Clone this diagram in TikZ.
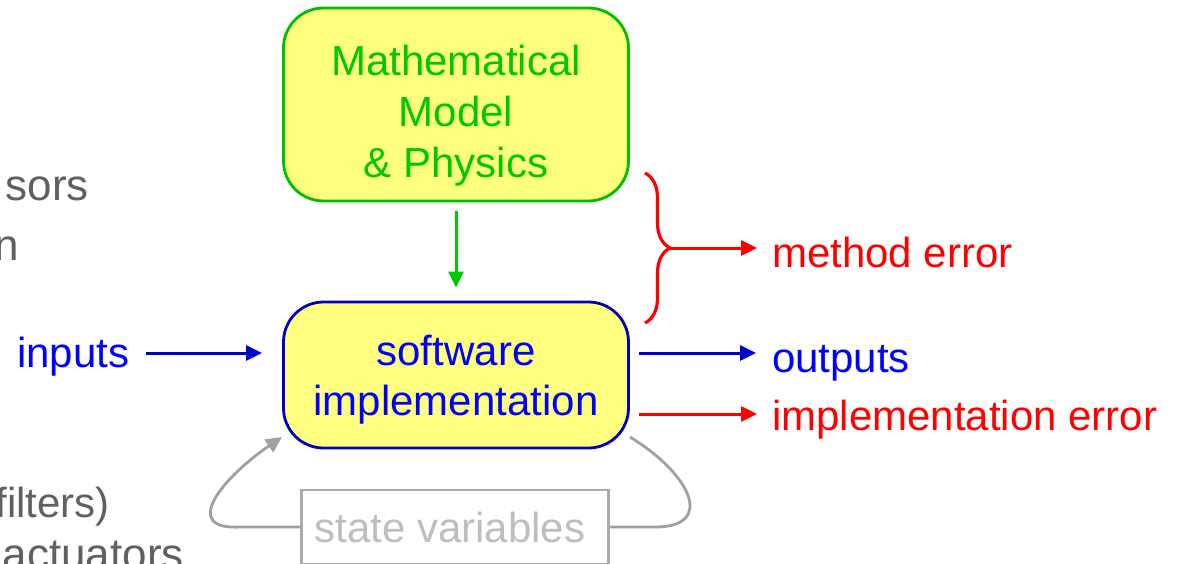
\documentclass[tikz,border=0pt]{standalone}
\usepackage{fontspec}
\setmainfont{Liberation Sans}
\usetikzlibrary{arrows.meta,decorations.pathreplacing}
\definecolor{boxfill}{RGB}{255,255,128}
\definecolor{mgreen}{RGB}{0,200,0}
\definecolor{mgreenline}{RGB}{0,190,0}
\definecolor{mblue}{RGB}{0,0,255}
\definecolor{mblueline}{RGB}{0,0,190}
\definecolor{marrowblue}{RGB}{0,0,204}
\definecolor{mred}{RGB}{255,0,0}
\definecolor{lefttext}{RGB}{96,96,96}
\definecolor{svtext}{RGB}{190,190,190}
\definecolor{svline}{RGB}{170,170,170}
\definecolor{loopgray}{RGB}{160,160,160}
\tikzset{
  big/.style={font=\fontsize{42}{50}\selectfont, inner sep=0pt},
  leftbig/.style={font=\fontsize{44}{50}\selectfont, inner sep=0pt, text=lefttext, anchor=base east},
  roundbox/.style={draw, line width=2.8pt, fill=boxfill, rounded corners=40pt,
    minimum width=345pt, inner sep=0pt},
  arr/.style={line width=3pt, -{Triangle[length=16pt,width=15pt]}},
  brace/.style={decorate, decoration={brace, amplitude=25pt}, line width=3.2pt, draw=mred},
  loopline/.style={draw=loopgray, line width=2.8pt},
}
\begin{document}
\begin{tikzpicture}[x=1pt,y=-1pt]
\useasboundingbox (0,0) rectangle (1178,563);
\clip (0,0) rectangle (1178,563);

% boxes
\node[roundbox, draw=mgreenline, minimum height=193pt] (model) at (456,104.5) {};
\node[roundbox, draw=mblueline, minimum height=146pt] (sw) at (456,375) {};
\node[draw=svline, line width=2.4pt, minimum width=307pt, minimum height=74pt, inner sep=0pt] (svar) at (455,527) {};

% texts in boxes
\node[big, text=mgreen, anchor=base] (m1) at (456,75) {Mathematical};
\node[big, text=mgreen, anchor=base] (m2) at (456,126) {Model};
\node[big, text=mgreen, anchor=base] (m3) at (456,177) {\& Physics};
\node[big, text=mblue, anchor=base] (s1) at (456,365) {software};
\node[big, text=mblue, anchor=base] (s2) at (456,415) {implementation};
\node[big, text=svtext, anchor=base] (sv) at (450,542) {state variables};

% left texts, cut at the picture's edge as in the reference
\node[leftbig] (l1) at (89,200) {sors};
\node[leftbig] (l2) at (19,260) {n};
\node[leftbig, font=\fontsize{42}{50}\selectfont] (l3) at (110,517) {filters)};
\node[leftbig] (l4) at (184,569) {actuators};

% right texts
\node[big, text=mblue, anchor=base west] (inputs) at (17,367) {inputs};
\node[big, text=mred, anchor=base west] (merr) at (772,267) {method error};
\node[big, text=mblue, anchor=base west] (outputs) at (772,372) {outputs};
\node[big, text=mred, anchor=base west] (ierr) at (772,430) {implementation error};

% coordinates
\coordinate (inA) at (146,353);
\coordinate (outT) at (756,353);
\coordinate (ierrT) at (757,414);
\coordinate (brTop) at (645,173);
\coordinate (brBot) at (645,323);
\coordinate (brTip) at (670,248);
\coordinate (brEnd) at (757,248);
\coordinate (loopL) at (282,437);
\coordinate (loopR) at (630,437);

% arrows
\draw[arr, draw=mgreen, shorten <=9pt, shorten >=13pt] (model.south) -- (sw.north);
\draw[arr, draw=marrowblue, shorten >=20pt] (inA) -- (inA -| sw.west);
\draw[arr, draw=marrowblue, shorten <=9pt] (outT -| sw.east) -- (outT);
\draw[arr, draw=mred, shorten <=9pt] (ierrT -| sw.east) -- (ierrT);

% brace
\draw[brace] (brTop) -- (brBot);
\draw[arr, draw=mred] (brTip) -- (brEnd);

% state loop
\draw[loopline, -{Triangle[length=16pt,width=15pt]}]
  (svar.west) -- (240,527) .. controls (180,530) and (222,478) .. (loopL);
\draw[loopline] (svar.east) -- (655,527) .. controls (715,527) and (692,475) .. (loopR);
\end{tikzpicture}
\end{document}
